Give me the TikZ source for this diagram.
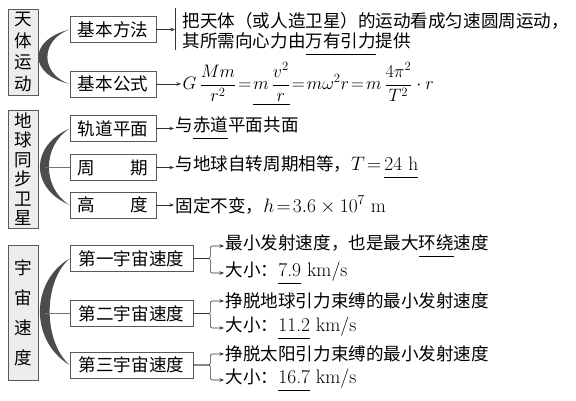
\RequirePackage{fix-cm}
\documentclass[tikz,border=0pt]{standalone}
\usepackage{amsmath}
\usepackage{fontspec}
\newfontfamily\cjk{Noto Sans CJK SC}[Scale=0.9]
\newcommand\ul[1]{\underline{\smash{#1}\rule[-4pt]{0pt}{0pt}}}
\usetikzlibrary{arrows.meta}
\begin{document}
\fontsize{19.5}{23}\selectfont
\thickmuskip=2mu plus 1mu
\begin{tikzpicture}[x=1pt, y=-1pt]
            \tikzstyle{topic} = [draw=black!65, fill=black!7, line width=0.8pt, inner sep=0pt, minimum width=30pt, align=center]
            \tikzstyle{item} = [draw=black!65, fill=white, line width=0.8pt, inner sep=0pt, minimum height=26pt, font=\cjk]
            \tikzstyle{link} = [draw=black!80, line width=0.6pt, -{Stealth[length=4.5pt, width=3.5pt]}]
            \tikzstyle{brace} = [fill=black!70]
            \tikzstyle{spoke} = [draw=black!55, line width=1pt]
            \tikzstyle{txt} = [anchor=west, inner sep=1.5pt]
            \useasboundingbox (0,0) rectangle (576,400);
            % left topics
            \node[topic, minimum height=86pt, font=\cjk\fontsize{19.5}{21.5}\selectfont] (tianti) at (23,52) {天\\体\\运\\动};
            \node[topic, minimum height=118pt, font=\cjk\fontsize{19.5}{19.5}\selectfont] (tongbu) at (23,169) {地\\球\\同\\步\\卫\\星};
            \node[topic, minimum height=135pt, font=\cjk\fontsize{19.5}{30}\selectfont] (yuzhou) at (23,312.5) {宇\\宙\\速\\度};
            % second level
            \node[item, minimum width=86pt] (fangfa) at (113,29.5) {基本方法};
            \node[item, minimum width=86pt] (gongshi) at (113,84) {基本公式};
            \node[item, minimum width=86pt] (guidao) at (113,128.5) {轨道平面};
            \node[item, minimum width=86pt] (zhouqi) at (113,167.5) {周\hspace{2em}期};
            \node[item, minimum width=86pt] (gaodu) at (113,205) {高\hspace{2em}度};
            \node[item, minimum width=123pt] (yu1) at (131.5,258.5) {第一宇宙速度};
            \node[item, minimum width=123pt] (yu2) at (131.5,313.5) {第二宇宙速度};
            \node[item, minimum width=123pt] (yu3) at (131.5,365) {第三宇宙速度};
            % crescents
            \fill[brace] (fangfa.west) .. controls (28,40) and (28,74) .. (gongshi.west) .. controls (40,74) and (40,40) .. (fangfa.west) -- cycle;
            \fill[brace] (guidao.west) .. controls (30,146) and (30,188) .. (gaodu.west) .. controls (42,188) and (42,146) .. (guidao.west) -- cycle;
            \fill[brace] (yu1.west) .. controls (30,282) and (30,341) .. (yu3.west) .. controls (43,341) and (43,282) .. (yu1.west) -- cycle;
            \coordinate (m2) at (45,167.5);
            \coordinate (m3) at (45,313.5);
            \draw[spoke] (m2) -- (zhouqi.west);
            \draw[spoke] (m3) -- (yu2.west);
            % group 1
            \coordinate (bartop) at (175,8);
            \coordinate (barbot) at (175,50);
            \coordinate (bar) at (175,29.5);
            \draw[black!80, line width=0.6pt] (bartop) -- (barbot);
            \draw[link] (fangfa.east) -- (bar);
            \node[txt] (way1) at (181,21) {\cjk 把天体（或人造卫星）的运动看成匀速圆周运动，};
            \node[txt] (way2) at (181,44) {\cjk 其所需向心力由\ul{万有引力}提供};
            \node[txt, font=\fontsize{18}{21}\selectfont] (formula) at (181,84) {$\displaystyle G\,\frac{Mm}{r^2}=\underline{m\,\frac{v^2}{r}}=m\omega^2r=m\,\frac{4\pi^2}{T^2}\cdot r$};
            \draw[link] (gongshi.east) -- (formula.west);
            % group 2
            \node[txt] (plane) at (174,128.5) {\cjk 与\ul{赤道}平面共面};
            \node[txt] (period) at (174,167.5) {{\cjk 与地球自转周期相等，}$T=$\,\ul{24 h}};
            \node[txt] (height) at (174,205) {{\cjk 固定不变，}$h=3.6\times10^7$ m};
            \draw[link] (guidao.east) -- (plane.west);
            \draw[link] (zhouqi.east) -- (period.west);
            \draw[link] (gaodu.east) -- (height.west);
            % group 3
            \node[txt] (v1a) at (224,246) {\cjk 最小发射速度，也是最大\ul{环绕}速度};
            \node[txt] (v1b) at (224,273) {{\cjk 大小：}\ul{7.9} km/s};
            \node[txt] (v2a) at (224,301) {\cjk 挣脱地球引力束缚的最小发射速度};
            \node[txt] (v2b) at (224,328) {{\cjk 大小：}\ul{11.2} km/s};
            \node[txt] (v3a) at (224,354) {\cjk 挣脱太阳引力束缚的最小发射速度};
            \node[txt] (v3b) at (224,380) {{\cjk 大小：}\ul{16.7} km/s};
            \foreach \b/\t in {yu1/v1a, yu1/v1b, yu2/v2a, yu2/v2b, yu3/v3a, yu3/v3b}
                \draw[link, rounded corners=2pt] (\b.east) -- ++(17,0) |- (\t.west);
        \end{tikzpicture}
\end{document}
